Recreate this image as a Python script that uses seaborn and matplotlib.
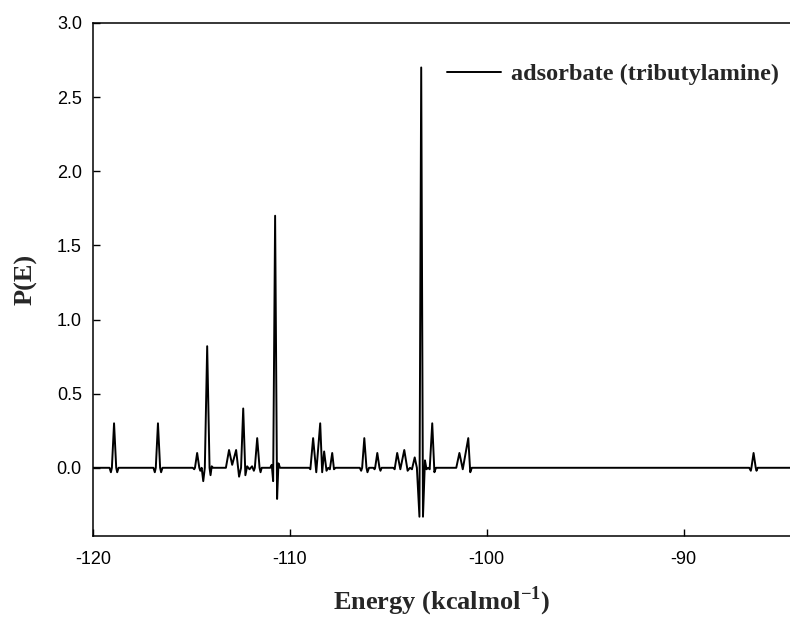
import numpy as np
import pandas as pd
import matplotlib
matplotlib.use("Agg")
import matplotlib.pyplot as plt
import seaborn as sns

# Datos: energia (kcal/mol) y P(E) en los vertices de la traza
energia = [
    -120.00,
    -119.16, -119.09, -119.04, -118.93, -118.82, -118.77, -118.70,
    -116.93, -116.86, -116.81, -116.70, -116.59, -116.54, -116.47,
    -114.93, -114.86, -114.82, -114.71, -114.60, -114.55, -114.48, -114.40,
    -114.32, -114.20, -114.08, -114.03, -113.97, -113.90,
    -113.25, -113.09, -112.93, -112.73, -112.58, -112.48, -112.37, -112.26,
    -112.17, -112.05, -111.92, -111.83, -111.78, -111.66, -111.54, -111.49,
    -111.43,
    -111.00, -110.92, -110.85, -110.75, -110.65, -110.58, -110.50,
    -109.02, -108.96, -108.82, -108.66, -108.46, -108.36, -108.26, -108.14,
    -108.05, -107.97, -107.85, -107.76, -107.68,
    -106.45, -106.38, -106.33, -106.22, -106.11, -106.06, -105.98,
    -105.76, -105.70, -105.67, -105.56, -105.45, -105.40, -105.34,
    -104.75, -104.68, -104.55, -104.39, -104.19, -104.02, -103.90, -103.80,
    -103.66, -103.55, -103.42, -103.33, -103.24, -103.14, -103.06, -102.98,
    -102.90, -102.77, -102.66, -102.58,
    -101.55, -101.39, -101.22, -100.94, -100.84, -100.76,
    -86.67, -86.59, -86.56, -86.45, -86.34, -86.30, -86.24,
    -84.60,
]
p_e = [
    0.00,
    0.00, -0.03, 0.00, 0.30, 0.00, -0.03, 0.00,
    0.00, -0.03, 0.00, 0.30, 0.00, -0.03, 0.00,
    0.00, -0.01, 0.00, 0.10, 0.00, -0.02, 0.00, -0.09,
    0.00, 0.82, 0.00, -0.05, 0.01, 0.00,
    0.00, 0.12, 0.02, 0.12, -0.06, 0.00, 0.40, -0.05,
    0.01, -0.01, 0.01, -0.02, 0.00, 0.20, 0.00, -0.03,
    0.00,
    0.00, 0.02, -0.09, 1.70, -0.21, 0.03, 0.00,
    0.00, -0.01, 0.20, -0.03, 0.30, -0.03, 0.11, -0.02,
    0.00, -0.01, 0.10, -0.01, 0.00,
    0.00, -0.02, 0.00, 0.20, 0.00, -0.03, 0.00,
    0.00, -0.01, 0.00, 0.10, 0.00, -0.02, 0.00,
    0.00, -0.01, 0.10, -0.01, 0.12, -0.02, 0.00, -0.01,
    0.07, 0.00, -0.33, 2.70, -0.33, 0.05, -0.01, 0.00,
    -0.01, 0.30, -0.03, 0.00,
    0.00, 0.10, -0.01, 0.20, -0.03, 0.00,
    0.00, -0.02, 0.00, 0.10, 0.00, -0.02, 0.00,
    0.00,
]

x_ticks = [-120, -110, -100, -90]
y_ticks = [0.0, 0.5, 1.0, 1.5, 2.0, 2.5, 3.0]
etiqueta_serie = "adsorbate (tributylamine)"

df = pd.DataFrame({"Energy": energia, "P": p_e})

sns.set_style("ticks")
plt.rcParams["font.family"] = ["Liberation Sans", "DejaVu Sans"]
plt.rcParams["mathtext.fontset"] = "custom"
plt.rcParams["mathtext.rm"] = "Liberation Serif:bold"
plt.rcParams["mathtext.bf"] = "Liberation Serif:bold"

fig = plt.figure(figsize=(7.9, 6.18), dpi=100)
ax = fig.add_axes([0.1177, 0.1327, 0.8823, 0.8301])

sns.lineplot(data=df, x="Energy", y="P", ax=ax, color="black", linewidth=1.4,
             label=etiqueta_serie, sort=False, estimator=None)

ax.set_xlim(-120, -84.6)
ax.set_ylim(-0.46, 3.0)
ax.set_xticks(x_ticks)
ax.set_yticks(y_ticks)
ax.set_xticklabels([str(t) for t in x_ticks])
ax.set_yticklabels([f"{t:.1f}" for t in y_ticks])
ax.tick_params(direction="in", length=5, width=1, labelsize=13, pad=8, colors="black")
ax.tick_params(axis="x", pad=11)

for lado in ["left", "bottom", "top"]:
    ax.spines[lado].set_linewidth(1.1)
    ax.spines[lado].set_color("black")
ax.spines["right"].set_visible(False)

fuente_eje = {"family": "Liberation Serif", "weight": "bold", "size": 19}
ax.set_xlabel("Energy (kcalmol$^{\\mathbf{-1}}$)", fontdict=fuente_eje, labelpad=12)
ax.set_ylabel("P(E)", fontdict=fuente_eje, labelpad=14)

ax.legend(loc="upper left", bbox_to_anchor=(0.566, 0.898), bbox_transform=fig.transFigure,
          frameon=False, borderpad=0, borderaxespad=0, handlelength=2.2, handletextpad=0.42,
          prop={"family": "Liberation Serif", "weight": "bold", "size": 17.5})

plt.savefig("out.png", dpi=100)
